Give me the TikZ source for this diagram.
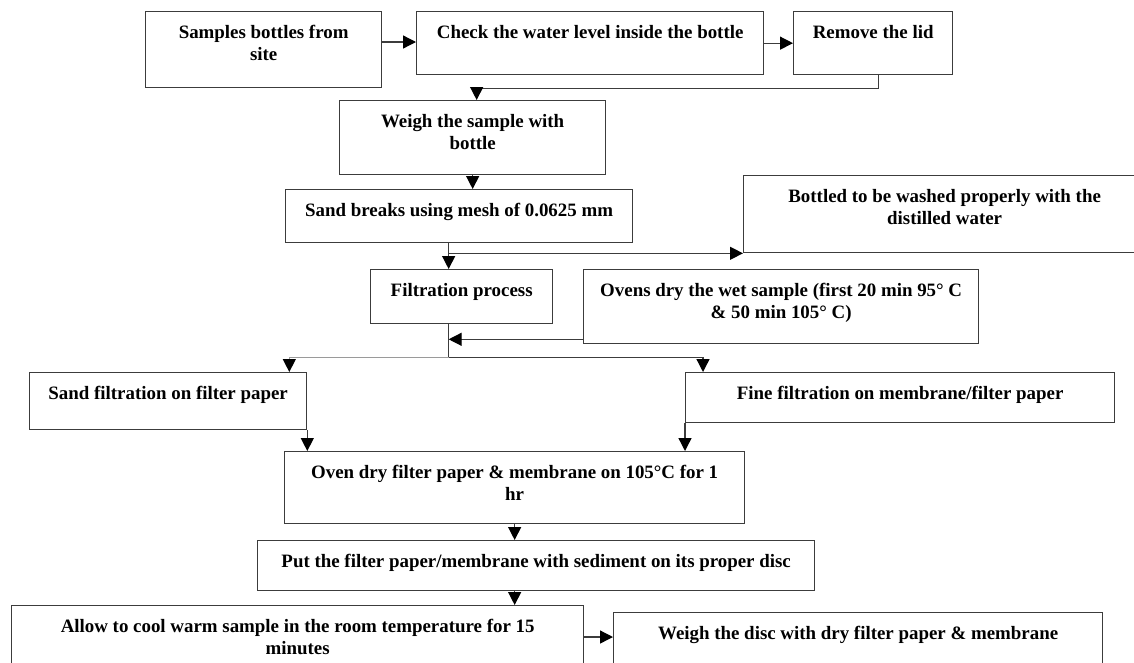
\documentclass[tikz,border=0pt]{standalone}
\usepackage{fontspec}
\setmainfont{Liberation Serif}
\usetikzlibrary{arrows.meta,calc}
\definecolor{linec}{HTML}{3C3C3C}
\definecolor{greyline}{HTML}{9A9A9A}
\tikzset{
  box/.style={draw=linec, line width=1.3pt, inner sep=0pt, rectangle},
  txt/.style={inner sep=0pt, align=center, text=black, font=\bfseries\fontsize{18.9}{22.7}\selectfont},
  arr/.style={draw=linec, line width=1.3pt, -{Triangle[length=13pt,width=13pt,color=black]}},
  plain/.style={draw=linec, line width=1.3pt},
}
\newcommand{\stepnode}[6]{%
  \node[box, minimum width={#4pt-#2pt}, minimum height={#5pt-#3pt}, anchor=north west] (#1) at (#2,#3) {};
  \node[txt, anchor=north] (#1-t) at ([yshift=-13pt]#1.north) {\rule{0pt}{14pt}#6};
}
\begin{document}
\begin{tikzpicture}[x=1pt,y=-1pt]
\useasboundingbox (0,0) rectangle (1134,662);
\stepnode{b1}{145}{11}{381}{87}{Samples bottles from\\site}
\stepnode{b2}{416}{11}{763}{74}{Check the water level inside the bottle}
\stepnode{b3}{793}{11}{952}{74}{Remove the lid}
\stepnode{b4}{339}{100}{605}{174}{Weigh the sample with\\bottle}
\stepnode{b5}{285}{189}{632}{242}{Sand breaks using mesh of 0.0625 mm}
\stepnode{bot}{743}{175}{1145}{252}{Bottled to be washed properly with the\\distilled water}
\stepnode{filt}{370}{269}{552}{323}{Filtration process}
\stepnode{ov}{583}{269}{978}{343}{Ovens dry the wet sample (first 20 min 95° C\\\& 50 min 105° C)}
\stepnode{sand}{29}{372}{306}{429}{Sand filtration on filter paper}
\stepnode{fine}{685}{372}{1114}{422}{Fine filtration on membrane/filter paper}
\stepnode{od}{284}{451}{744}{523}{Oven dry filter paper \& membrane on 105°C for 1\\hr}
\stepnode{put}{257}{540}{814}{590}{Put the filter paper/membrane with sediment on its proper disc}
\stepnode{allow}{11}{605}{583}{690}{Allow to cool warm sample in the room temperature for 15\\minutes}
\stepnode{wd}{613}{612}{1102}{690}{Weigh the disc with dry filter paper \& membrane}
% connectors
\coordinate (a1) at ($(b1.north east)+(0,31)$);
\draw[arr] (a1) -- (a1 -| b2.west);
\draw[arr] (b2.east) -- (b3.west);
\coordinate (s3) at ($(b3.south)+(5,0)$);
\coordinate (j3) at ($(b3.south)+(5,13)$);
\coordinate (t4) at ($(b4.north)+(4,0)$);
\draw[arr] (s3) -- (j3) -| (t4);
\draw[arr] (b4.south) -- (b4.south |- b5.north);
\coordinate (f5) at ($(filt.north)+(-13,0)$);
\draw[arr] (f5 |- b5.south) -- (f5);
\draw[arr] (f5 |- bot.south west) -- (bot.south west);
\coordinate (o1) at ($(ov.south west)+(0,-5)$);
\draw[arr] (o1) -- (o1 -| f5);
\coordinate (s1) at ($(filt.south)+(-13,33)$);
\draw[plain] (filt.south -| f5) -- (s1);
\coordinate (fa) at ($(fine.north west)+(18,0)$);
\draw[arr] (s1) -| (fa);
\coordinate (sa) at ($(sand.north east)+(-18,0)$);
\draw[arr, draw=greyline] (s1) -| (sa);
\draw[arr] (sand.south east) -- (sand.south east |- od.north);
\draw[arr] (fine.south west) -- (fine.south west |- od.north);
\draw[arr] (od.south) -- (od.south |- put.north);
\coordinate (p1) at (put.south -| od.south);
\draw[arr] (p1) -- (p1 |- allow.north);
\coordinate (w1) at ($(allow.north east)+(0,32)$);
\draw[arr] (w1) -- (w1 -| wd.west);
\end{tikzpicture}
\end{document}
